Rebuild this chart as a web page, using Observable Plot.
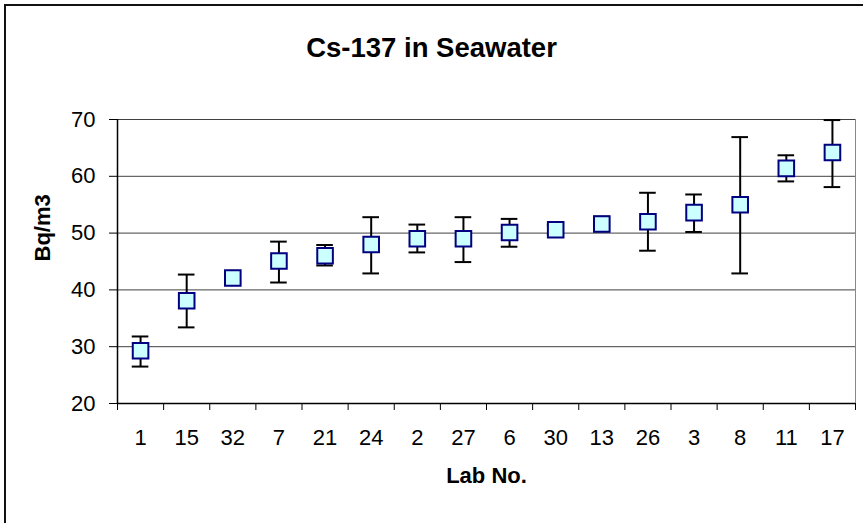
<!DOCTYPE html>
<html>
<head>
<meta charset="utf-8">
<script src="https://cdn.jsdelivr.net/npm/d3@7"></script>
<script src="https://cdn.jsdelivr.net/npm/@observablehq/plot@0.6"></script>
<style>
  body { margin: 0; background: #fff; }
  #wrap { position: relative; width: 863px; height: 523px; overflow: hidden; font-family: "Liberation Sans", Arial, sans-serif; background: #fff; }
  #chart { position: absolute; left: 0; top: 0; }
  #border { position: absolute; left: 4px; top: 4px; width: 900px; height: 600px; border: 2px solid #111; pointer-events: none; }
  #title { position: absolute; left: 0; width: 863px; top: 33.5px; text-align: center; font-weight: bold; font-size: 27.5px; line-height: 1; color: #000; }
</style>
</head>
<body>
<div id="wrap">
  <div id="chart"></div>
  <div id="title">Cs-137 in Seawater</div>
  <div id="border"></div>
</div>
<script>
// Data
const labs   = ["1", "15", "32", "7", "21", "24", "2", "27", "6", "30", "13", "26", "3", "8", "11", "17"];
const values = [29.3, 38.1, 42.1, 45.1, 46.0, 48.0, 49.0, 49.0, 50.1, 50.6, 51.6, 52.0, 53.6, 55.0, 61.4, 64.2];
const upper  = [31.8, 42.7, 43.0, 48.5, 47.9, 52.8, 51.5, 52.8, 52.5, 51.4, 52.9, 57.1, 56.8, 66.9, 63.7, 69.9];
const lower  = [26.5, 33.4, 41.2, 41.3, 44.3, 42.9, 46.6, 44.9, 47.6, 49.8, 50.3, 46.9, 50.2, 42.9, 59.1, 58.1];
const yTicks = [20, 30, 40, 50, 60, 70];
const yLabel = "Bq/m3";
const xLabel = "Lab No.";

const rows = labs.map((lab, i) => ({ lab, pos: i + 0.5, value: values[i], lo: lower[i], hi: upper[i] }));
const capHalf = 0.18;
const font = '"Liberation Sans", Arial, sans-serif';

const chart = Plot.plot({
  width: 863,
  height: 523,
  marginLeft: 117,
  marginRight: 8,
  marginTop: 119,
  marginBottom: 120,
  style: { fontFamily: font, fontSize: "22px", color: "#000", background: "transparent" },
  x: { domain: [0, labs.length], label: null },
  y: { domain: [20, 70], label: null },
  marks: [
    Plot.gridY({ ticks: yTicks, stroke: "#000", strokeOpacity: 0.75 }),
    Plot.ruleX([labs.length], { stroke: "#888", strokeWidth: 1 }),
    Plot.ruleX([0], { stroke: "#000", strokeWidth: 1.5 }),
    Plot.ruleY([20], { stroke: "#000", strokeWidth: 1.5 }),
    Plot.axisY({ ticks: yTicks, tickSize: 8, tickPadding: 14, label: null, fontSize: 22 }),
    Plot.axisX({ ticks: d3.range(labs.length + 1), tickSize: 7, tickFormat: () => "", label: null }),
    Plot.axisX({ ticks: rows.map(d => d.pos), tickSize: 0, tickPadding: 26, tickFormat: d => labs[Math.floor(d)], label: null, fontSize: 22 }),
    Plot.ruleX(rows, { x: "pos", y1: "lo", y2: "hi", stroke: "#000", strokeWidth: 2 }),
    Plot.ruleY(rows, { y: "hi", x1: d => d.pos - capHalf, x2: d => d.pos + capHalf, stroke: "#000", strokeWidth: 2 }),
    Plot.ruleY(rows, { y: "lo", x1: d => d.pos - capHalf, x2: d => d.pos + capHalf, stroke: "#000", strokeWidth: 2 }),
    Plot.dot(rows, { x: "pos", y: "value", symbol: "square", r: 8.8, fill: "#ccffff", stroke: "#000080", strokeWidth: 2 }),
    Plot.text([yLabel], { frameAnchor: "left", dx: -75, rotate: -90, fontWeight: "bold", fontSize: 22 }),
    Plot.text([xLabel], { frameAnchor: "bottom", dy: 79, fontWeight: "bold", fontSize: 22 })
  ]
});
document.getElementById("chart").appendChild(chart);
</script>
</body>
</html>
